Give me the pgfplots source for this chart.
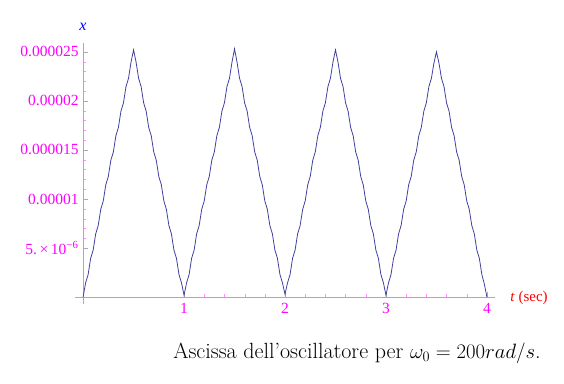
\documentclass[border=0pt]{standalone}
\usepackage{fontspec}
\usepackage{pgfplots}
\pgfplotsset{compat=1.18}
\newfontfamily\tms{Liberation Serif}
\definecolor{curve}{RGB}{64,64,160}
\definecolor{axgray}{RGB}{170,170,180}
\definecolor{mag}{RGB}{255,0,255}
\begin{document}
\begin{tikzpicture}
\useasboundingbox (0,0) rectangle (564pt,383pt);
\begin{axis}[
  at={(75pt,79pt)}, anchor=south west,
  scale only axis, width=420pt, height=261pt,
  xmin=-0.08, xmax=4.08, ymin=-0.7, ymax=25.9,
  axis lines=middle, axis line style={-,color=axgray},
  xtick={1,2,3,4}, xticklabels={1,2,3,4},
  ytick={5,10,15,20,25},
  yticklabels={{5.\,×\,10\textsuperscript{−6}},0.00001,0.000015,0.00002,0.000025},
  minor x tick num=4, minor y tick num=4,
  tick align=inside,
  major tick length=5pt, minor tick length=3pt,
  major tick style={axgray},
  minor tick style={mag!45},
  ticklabel style={font=\tms\fontsize{15.5}{17}\selectfont, text=mag},
  xticklabel style={yshift=-3pt},
  yticklabel style={xshift=-1pt},
  clip=false,
]
\addplot[curve, line width=0.8pt] coordinates {
(0,0) (0.025,1.45) (0.05,2.3) (0.075,3.95) (0.1,4.8) (0.125,6.45) (0.15,7.3) (0.175,8.95) (0.2,9.8) (0.225,11.45) (0.25,12.3) (0.275,13.95) (0.3,14.8) (0.325,16.45) (0.35,17.3) (0.375,18.95) (0.4,19.8) (0.425,21.45) (0.45,22.3) (0.475,23.95) (0.5,25.2) (0.525,23.95) (0.55,22.3) (0.575,21.45) (0.6,19.8) (0.625,18.95) (0.65,17.3) (0.675,16.45) (0.7,14.8) (0.725,13.95) (0.75,12.3) (0.775,11.45) (0.8,9.8) (0.825,8.95) (0.85,7.3) (0.875,6.45) (0.9,4.8) (0.925,3.95) (0.95,2.3) (0.975,1.45) (1.0,0.2)
(1.025,1.45) (1.05,2.3) (1.075,3.95) (1.1,4.8) (1.125,6.45) (1.15,7.3) (1.175,8.95) (1.2,9.8) (1.225,11.45) (1.25,12.3) (1.275,13.95) (1.3,14.8) (1.325,16.45) (1.35,17.3) (1.375,18.95) (1.4,19.8) (1.425,21.45) (1.45,22.3) (1.475,23.95) (1.5,25.3) (1.525,23.95) (1.55,22.3) (1.575,21.45) (1.6,19.8) (1.625,18.95) (1.65,17.3) (1.675,16.45) (1.7,14.8) (1.725,13.95) (1.75,12.3) (1.775,11.45) (1.8,9.8) (1.825,8.95) (1.85,7.3) (1.875,6.45) (1.9,4.8) (1.925,3.95) (1.95,2.3) (1.975,1.45) (2.0,0.3)
(2.025,1.45) (2.05,2.3) (2.075,3.95) (2.1,4.8) (2.125,6.45) (2.15,7.3) (2.175,8.95) (2.2,9.8) (2.225,11.45) (2.25,12.3) (2.275,13.95) (2.3,14.8) (2.325,16.45) (2.35,17.3) (2.375,18.95) (2.4,19.8) (2.425,21.45) (2.45,22.3) (2.475,23.95) (2.5,25.2) (2.525,23.95) (2.55,22.3) (2.575,21.45) (2.6,19.8) (2.625,18.95) (2.65,17.3) (2.675,16.45) (2.7,14.8) (2.725,13.95) (2.75,12.3) (2.775,11.45) (2.8,9.8) (2.825,8.95) (2.85,7.3) (2.875,6.45) (2.9,4.8) (2.925,3.95) (2.95,2.3) (2.975,1.45) (3.0,0.2)
(3.025,1.45) (3.05,2.3) (3.075,3.95) (3.1,4.8) (3.125,6.45) (3.15,7.3) (3.175,8.95) (3.2,9.8) (3.225,11.45) (3.25,12.3) (3.275,13.95) (3.3,14.8) (3.325,16.45) (3.35,17.3) (3.375,18.95) (3.4,19.8) (3.425,21.45) (3.45,22.3) (3.475,23.85) (3.5,25.0) (3.525,23.85) (3.55,22.3) (3.575,21.45) (3.6,19.8) (3.625,18.95) (3.65,17.3) (3.675,16.45) (3.7,14.8) (3.725,13.95) (3.75,12.3) (3.775,11.45) (3.8,9.8) (3.825,8.95) (3.85,7.3) (3.875,6.45) (3.9,4.8) (3.925,3.95) (3.95,2.3) (3.975,1.3) (4.0,0)
};
\end{axis}
\node[text=blue, font=\tms\itshape\fontsize{16}{18}\selectfont] at (83pt,356pt) {x};
\node[text=red, font=\tms\fontsize{15}{17}\selectfont] at (529pt,85pt) {\textit{t} (sec)};
\node[anchor=base, font=\fontsize{22}{26}\selectfont] at (357pt,25pt) {Ascissa dell'oscillatore per $\omega_0 = 200 rad/s$.};
\end{tikzpicture}
\end{document}
